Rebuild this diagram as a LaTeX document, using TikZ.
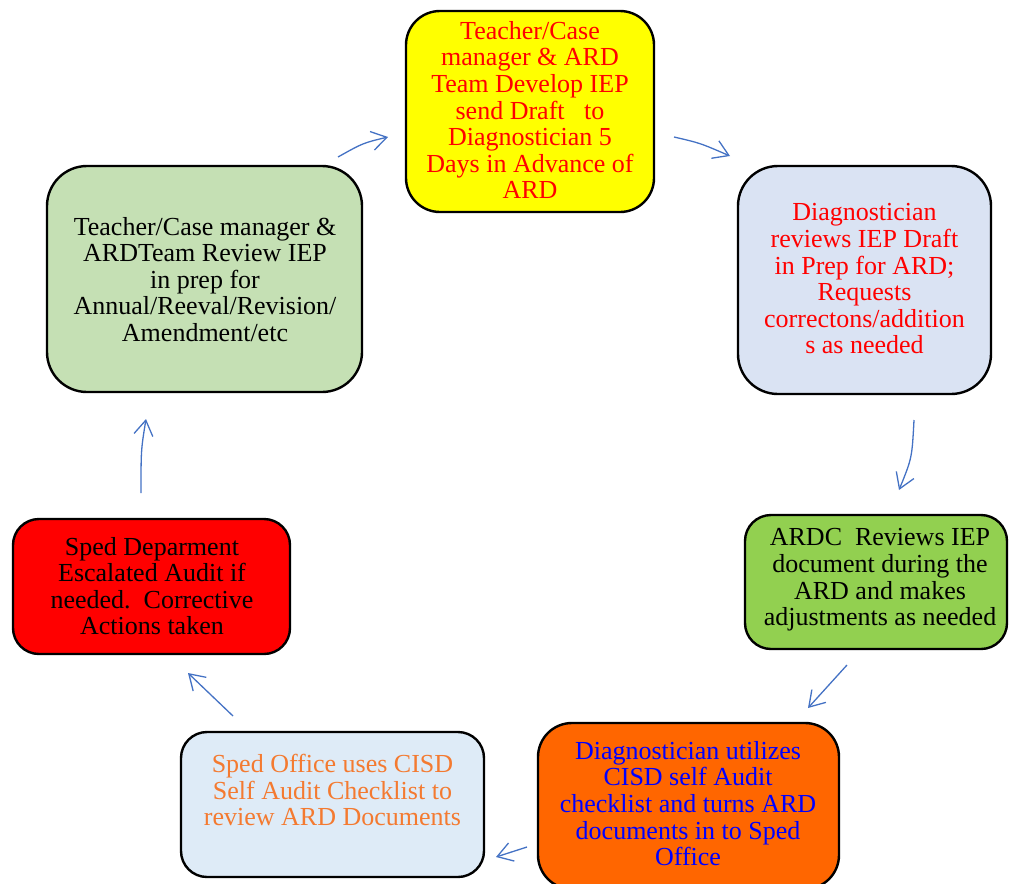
\documentclass[tikz,border=0pt]{standalone}
\usepackage{fontspec}
\setmainfont{Liberation Serif}
\usetikzlibrary{arrows.meta}

\definecolor{fillyellow}{HTML}{FFFF00}
\definecolor{filllavender}{HTML}{DAE3F3}
\definecolor{fillgreen}{HTML}{92D050}
\definecolor{fillorange}{HTML}{FF6600}
\definecolor{fillpaleblue}{HTML}{DEEBF7}
\definecolor{fillred}{HTML}{FF0000}
\definecolor{fillpalegreen}{HTML}{C5E0B4}
\definecolor{txtred}{HTML}{FF0000}
\definecolor{txtblue}{HTML}{0000FF}
\definecolor{txtorange}{HTML}{F47A30}
\definecolor{arrowblue}{HTML}{4472C4}

\begin{document}
\begin{tikzpicture}[x=1pt,y=-1pt,
  box/.style={draw=black, line width=2.4pt, inner sep=0pt, rounded corners=#1},
  box/.default=30pt,
  txt/.style={align=center, inner sep=0pt,
    font=\fontsize{26}{26.6}\selectfont},
  conn/.style={draw=arrowblue, line width=1.3pt,
    -{Straight Barb[length=15pt,width=19pt,line width=1.3pt]}}
]
\useasboundingbox (0,0) rectangle (1010,884);

% process boxes
\node[box=34pt, fill=fillyellow, minimum width=248pt, minimum height=201pt] (b1) at (530,111.5) {};
\node[box=40pt, fill=filllavender, minimum width=253pt, minimum height=228pt] (b2) at (864.5,280) {};
\node[box=26pt, fill=fillgreen, minimum width=262pt, minimum height=134pt] (b3) at (876,582) {};
\node[box=34pt, fill=fillorange, minimum width=301pt, minimum height=166pt] (b4) at (688.5,806) {};
\node[box=26pt, fill=fillpaleblue, minimum width=303pt, minimum height=145pt] (b5) at (332.5,804.5) {};
\node[box=26pt, fill=fillred, minimum width=277pt, minimum height=135pt] (b6) at (151.5,586.5) {};
\node[box=40pt, fill=fillpalegreen, minimum width=315pt, minimum height=226pt] (b7) at (204.5,279) {};

% box texts
\node[txt, text=txtred] (t1) at (530,110) {Teacher/Case\\manager \& ARD\\Team Develop IEP\\send Draft \ \ to\\Diagnostician 5\\Days in Advance of\\ARD};
\node[txt, text=txtred] (t2) at (864.5,279) {Diagnostician\\reviews IEP Draft\\in Prep for ARD;\\Requests\\correctons/addition\\s as needed};
\node[txt, text=black] (t3) at (880,580) {ARDC\ \ Reviews IEP\\document during the\\ARD and makes\\adjustments as needed};
\node[txt, text=txtblue] (t4) at (688,803.5) {Diagnostician utilizes\\CISD self Audit\\checklist and turns ARD\\documents in to Sped\\Office};
\node[txt, text=txtorange] (t5) at (332.5,790) {Sped Office uses CISD\\Self Audit Checklist to\\review ARD Documents};
\node[txt, text=black] (t6) at (152,586) {Sped Deparment\\Escalated Audit if\\needed.\ \ Corrective\\Actions taken};
\node[txt, text=black] (t7) at (205,279.5) {Teacher/Case manager \&\\ARDTeam Review IEP\\in prep for\\Annual/Reeval/Revision/\\Amendment/etc};

% connector end points between the boxes
\coordinate (a1s) at (338,157);  \coordinate (a1e) at (388,137);
\coordinate (a2s) at (674,137);  \coordinate (a2e) at (730,156);
\coordinate (a3s) at (914,420);  \coordinate (a3e) at (899,490);
\coordinate (a4s) at (847,665);  \coordinate (a4e) at (808,708);
\coordinate (a5s) at (527,847);  \coordinate (a5e) at (496,857);
\coordinate (a6s) at (233,716);  \coordinate (a6e) at (188,673);
\coordinate (a7s) at (141,493);  \coordinate (a7e) at (146,419);

% cycle arrows
\draw[conn] (a1s) .. controls (363,143) .. (a1e);
\draw[conn] (a2s) .. controls (700,143) .. (a2e);
\draw[conn] (a3s) .. controls (912,458) .. (a3e);
\draw[conn] (a4s) -- (a4e);
\draw[conn] (a5s) -- (a5e);
\draw[conn] (a6s) -- (a6e);
\draw[conn] (a7s) .. controls (141,450) .. (a7e);
\end{tikzpicture}
\end{document}
